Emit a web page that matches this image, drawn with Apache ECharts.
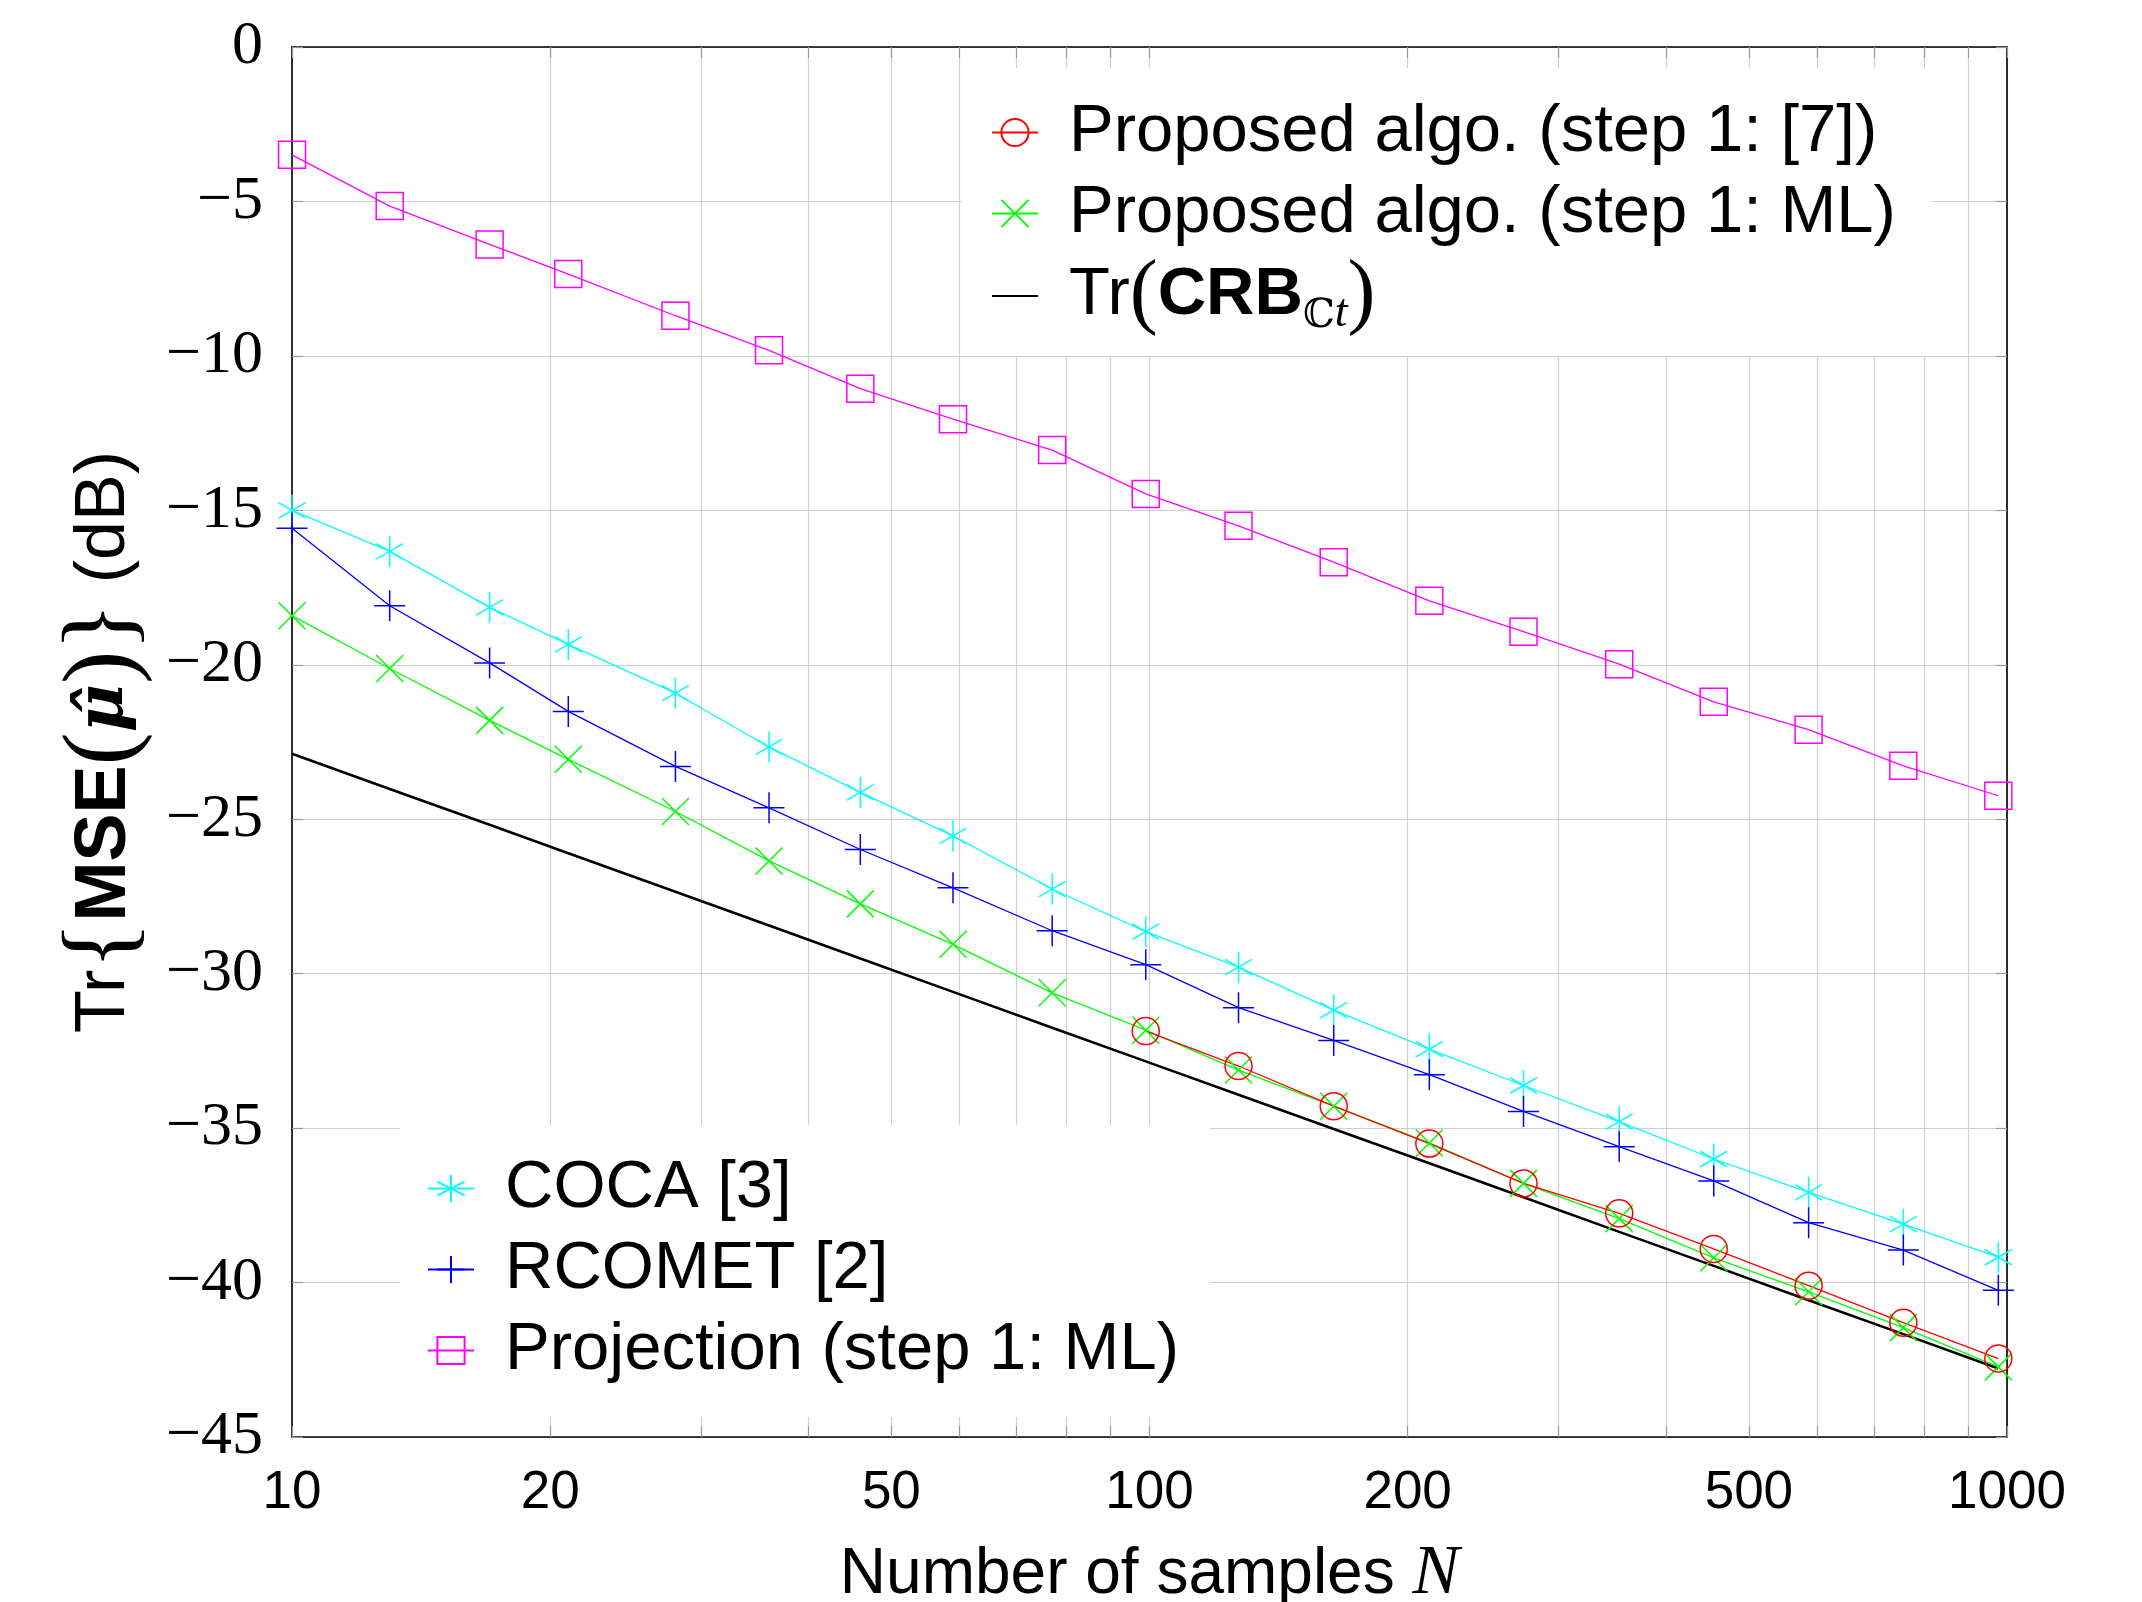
<!DOCTYPE html>
<html><head><meta charset="utf-8">
<script src="https://cdn.jsdelivr.net/npm/echarts@6/dist/echarts.min.js"></script>
<style>html,body{margin:0;padding:0;background:#fff}#c{width:2142px;height:1602px}</style>
</head><body><div id="c"></div>
<script>
// ---- data ----
const N = [10, 13, 17, 21, 28, 36, 46, 59, 77, 99, 127, 164, 212, 273, 353, 455, 587, 757, 977];
const N_proposed7 = [99, 127, 164, 212, 273, 353, 455, 587, 757, 977];
const proposed7 = [-31.86, -32.99, -34.29, -35.50, -36.79, -37.76, -38.91, -40.10, -41.30, -42.46];
const proposedML = [-18.41, -20.12, -21.80, -23.06, -24.75, -26.35, -27.74, -29.05, -30.62, -31.83, -33.12, -34.29, -35.48, -36.79, -37.93, -39.20, -40.30, -41.46, -42.73];
const crb = [-22.88, -24.02, -25.18, -26.10, -27.35, -28.44, -29.51, -30.59, -31.75, -32.84, -33.92, -35.03, -36.14, -37.24, -38.36, -39.46, -40.57, -41.67, -42.78];
const coca = [-15.00, -16.33, -18.14, -19.34, -20.92, -22.66, -24.13, -25.54, -27.26, -28.64, -29.79, -31.18, -32.44, -33.62, -34.79, -36.00, -37.08, -38.11, -39.18];
const rcomet = [-15.58, -18.09, -19.94, -21.51, -23.29, -24.63, -25.98, -27.22, -28.61, -29.71, -31.10, -32.16, -33.27, -34.46, -35.60, -36.71, -38.06, -38.95, -40.25];
const projectionML = [-3.49, -5.15, -6.39, -7.35, -8.70, -9.82, -11.06, -12.05, -13.05, -14.47, -15.50, -16.68, -17.93, -18.93, -19.98, -21.20, -22.10, -23.27, -24.24];

const xTickValues = [10, 20, 30, 40, 50, 60, 70, 80, 90, 100, 200, 300, 400, 500, 600, 700, 800, 900, 1000];
const xLabelValues = [10, 20, 50, 100, 200, 500, 1000];
const yMin = -45, yMax = 0, yStep = 5;

const names = {
  p7: 'Proposed algo. (step 1: [7])',
  pml: 'Proposed algo. (step 1: ML)',
  crb: 'Tr(CRB)',
  coca: 'COCA [3]',
  rcomet: 'RCOMET [2]',
  proj: 'Projection (step 1: ML)'
};
const legendRich = {};
legendRich[names.p7] = '{n|Proposed algo. (step 1: [7])}';
legendRich[names.pml] = '{n|Proposed algo. (step 1: ML)}';
legendRich[names.crb] = '{n|Tr}{p|(}{b|CRB}{s|ℂ}{si|t}{p|)}';
legendRich[names.coca] = '{n|COCA [3]}';
legendRich[names.rcomet] = '{n|RCOMET [2]}';
legendRich[names.proj] = '{n|Projection (step 1: ML)}';

const pairs = (xs, ys) => xs.map((x, i) => [x, ys[i]]);
const minus = v => (v < 0 ? '\u2212' + Math.abs(v) : String(v));

const SANS = "'Liberation Sans', Arial, sans-serif";
const SERIF = "'Liberation Serif', 'Times New Roman', serif";

const symAsterisk = 'path://M0,-1L0,1M-0.866,-0.5L0.866,0.5M-0.866,0.5L0.866,-0.5';
const symPlus = 'path://M0,-1L0,1M-1,0L1,0';
const symX = 'path://M-1,-1L1,1M-1,1L1,-1';

function mk(name, xs, ys, color, symbol, size, lw, keep) {
  return {
    name, type: 'line', data: pairs(xs, ys),
    symbol, symbolSize: size, symbolKeepAspect: !!keep, showSymbol: symbol !== 'none',
    lineStyle: { color, width: lw },
    itemStyle: { color: 'rgba(0,0,0,0)', borderColor: color, borderWidth: 1.5 },
    emphasis: { disabled: true },
    animation: false, clip: false
  };
}

const LH = 81;
const legendText = {
  padding: [0, 0, 0, 26],
  lineHeight: LH,
  backgroundColor: 'rgba(255,255,255,0.01)',
  rich: {
    n: { fontFamily: SANS, fontSize: 67, lineHeight: LH, color: '#000' },
    b: { fontFamily: SANS, fontSize: 67, fontWeight: 'bold', lineHeight: LH, color: '#000' },
    p: { fontFamily: SERIF, fontSize: 84, lineHeight: LH, color: '#000' },
    s: { fontFamily: "'DejaVu Serif', 'DejaVu Sans', serif", fontSize: 40, lineHeight: 38, verticalAlign: 'bottom', color: '#000' },
    si: { fontFamily: SERIF, fontStyle: 'italic', fontSize: 46, lineHeight: 38, verticalAlign: 'bottom', color: '#000' }
  }
};
const legendCommon = {
  orient: 'vertical', itemGap: 0, itemWidth: 46, itemHeight: 34, align: 'left',
  backgroundColor: '#ffffff', selectedMode: false,
  formatter: n => legendRich[n] || n,
  textStyle: legendText
};

const gridColor = '#cfcfcf';
const tickStyle = { show: true, inside: true, length: 11, lineStyle: { color: '#9a9a9a', width: 1.2 } };

const option = {
  backgroundColor: '#ffffff',
  animation: false,
  grid: { left: 292, right: 135, top: 47, bottom: 165, containLabel: false, outerBoundsMode: 'none' },
  legend: [
    Object.assign({}, legendCommon, {
      left: 962, top: 68, padding: [24, 35, 18, 29],
      data: [names.p7, names.pml, names.crb]
    }),
    Object.assign({}, legendCommon, {
      left: 400, top: 1125, padding: [23, 31, 26, 27],
      data: [names.coca, names.rcomet, names.proj]
    })
  ],
  xAxis: [
    {
      type: 'log', logBase: 10, min: 10, max: 1000, position: 'bottom',
      name: 'Number of samples {N|N}', nameLocation: 'middle', nameGap: 103,
      nameTextStyle: { fontFamily: SANS, fontSize: 64, lineHeight: 70, color: '#000',
        rich: { N: { fontFamily: SERIF, fontStyle: 'italic', fontSize: 70, lineHeight: 70, color: '#000' } } },
      axisLine: { show: true, onZero: false, lineStyle: { color: '#000', width: 1.6 } },
      axisTick: Object.assign({ customValues: xTickValues }, tickStyle),
      axisLabel: { customValues: xLabelValues, margin: 30, fontFamily: SANS, fontSize: 53, lineHeight: 53, color: '#000',
        formatter: v => String(Math.round(v)) },
      splitLine: { show: true, lineStyle: { color: gridColor, width: 1.2 } },
      minorTick: { show: false }, minorSplitLine: { show: false }
    },
    {
      type: 'log', logBase: 10, min: 10, max: 1000, position: 'top',
      axisLine: { show: true, onZero: false, lineStyle: { color: '#000', width: 1.6 } },
      axisTick: Object.assign({ customValues: xTickValues }, tickStyle),
      axisLabel: { show: false },
      splitLine: { show: false }
    }
  ],
  yAxis: [
    {
      type: 'value', min: yMin, max: yMax, interval: yStep, position: 'left',
      name: '{t|Tr}{{b|MSE}{p|(}{mu|μ̂}{p|)}}{t| (dB)}', nameLocation: 'middle', nameGap: 120,
      nameTextStyle: { fontFamily: SERIF, fontSize: 100, lineHeight: 94, color: '#000',
        rich: {
          t: { fontFamily: SANS, fontSize: 70, lineHeight: 94, color: '#000' },
          b: { fontFamily: SANS, fontSize: 72, fontWeight: 'bold', lineHeight: 94, color: '#000' },
          p: { fontFamily: SERIF, fontSize: 100, lineHeight: 94, color: '#000' },
          mu: { fontFamily: "'DejaVu Serif', serif", fontSize: 66, fontStyle: 'italic', fontWeight: 'bold', lineHeight: 94, color: '#000' }
        } },
      axisLine: { show: true, onZero: false, lineStyle: { color: '#000', width: 1.6 } },
      axisTick: tickStyle,
      axisLabel: { margin: 29, fontFamily: SERIF, fontSize: 62, color: '#000', formatter: minus },
      splitLine: { show: true, lineStyle: { color: gridColor, width: 1.2 } }
    },
    {
      type: 'value', min: yMin, max: yMax, interval: yStep, position: 'right',
      axisLine: { show: true, onZero: false, lineStyle: { color: '#000', width: 1.6 } },
      axisTick: tickStyle,
      axisLabel: { show: false },
      splitLine: { show: false }
    }
  ],
  series: [
    mk(names.proj, N, projectionML, '#ff00ff', 'rect', 27, 1.3),
    mk(names.coca, N, coca, '#00ffff', symAsterisk, 31, 1.3, true),
    mk(names.rcomet, N, rcomet, '#0000ff', symPlus, 31, 1.3),
    mk(names.crb, N, crb, '#000000', 'none', 0, 2.6),
    mk(names.pml, N, proposedML, '#00ff00', symX, 27, 1.3),
    mk(names.p7, N_proposed7, proposed7, '#ff0000', 'circle', 27, 1.3)
  ]
};
// CRB legend: no visible symbol
option.series[3].itemStyle = { color: 'rgba(0,0,0,0)', borderColor: 'rgba(0,0,0,0)', borderWidth: 0 };

const chart = echarts.init(document.getElementById('c'), null, { renderer: 'canvas' });
chart.setOption(option);
</script></body></html>
